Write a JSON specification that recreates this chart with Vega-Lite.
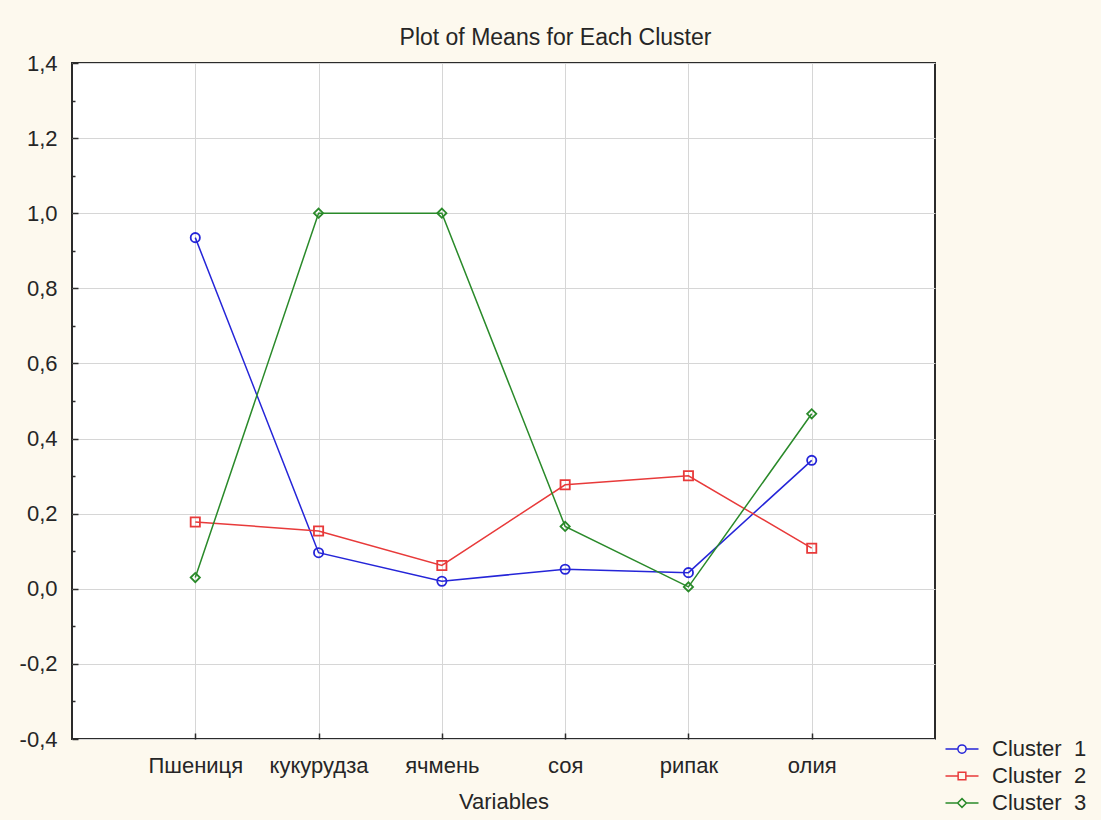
{
  "$schema": "https://vega.github.io/schema/vega-lite/v6.json",
  "width": 863,
  "height": 676,
  "autosize": "none",
  "padding": {"left": 72, "top": 63, "right": 166, "bottom": 81},
  "background": "#fdf9ee",
  "config": {
    "view": {"fill": "white", "stroke": "#2b2b2b", "strokeWidth": 2},
    "font": "Liberation Sans"
  },
  "title": {
    "text": "Plot of Means for Each Cluster",
    "fontSize": 23,
    "fontWeight": "normal",
    "color": "#262626",
    "font": "Liberation Sans",
    "anchor": "middle",
    "dx": 52,
    "offset": 2
  },
  "data": {
    "values": [
      {"variable": "Пшениця", "cluster": "Cluster 1", "mean": 0.935},
      {"variable": "кукурудза", "cluster": "Cluster 1", "mean": 0.096},
      {"variable": "ячмень", "cluster": "Cluster 1", "mean": 0.02},
      {"variable": "соя", "cluster": "Cluster 1", "mean": 0.052},
      {"variable": "рипак", "cluster": "Cluster 1", "mean": 0.043},
      {"variable": "олия", "cluster": "Cluster 1", "mean": 0.342},
      {"variable": "Пшениця", "cluster": "Cluster 2", "mean": 0.178},
      {"variable": "кукурудза", "cluster": "Cluster 2", "mean": 0.154},
      {"variable": "ячмень", "cluster": "Cluster 2", "mean": 0.062},
      {"variable": "соя", "cluster": "Cluster 2", "mean": 0.277},
      {"variable": "рипак", "cluster": "Cluster 2", "mean": 0.301},
      {"variable": "олия", "cluster": "Cluster 2", "mean": 0.108},
      {"variable": "Пшениця", "cluster": "Cluster 3", "mean": 0.03},
      {"variable": "кукурудза", "cluster": "Cluster 3", "mean": 1.0},
      {"variable": "ячмень", "cluster": "Cluster 3", "mean": 1.0},
      {"variable": "соя", "cluster": "Cluster 3", "mean": 0.166},
      {"variable": "рипак", "cluster": "Cluster 3", "mean": 0.005},
      {"variable": "олия", "cluster": "Cluster 3", "mean": 0.466}
    ]
  },
  "encoding": {
    "x": {
      "field": "variable",
      "type": "ordinal",
      "sort": ["Пшениця", "кукурудза", "ячмень", "соя", "рипак", "олия"],
      "scale": {"type": "point", "padding": 1},
      "axis": {
        "title": "Variables",
        "titleFontSize": 22,
        "titleFontWeight": "normal",
        "titleColor": "#262626",
        "titlePadding": 15,
        "labelFontSize": 22,
        "labelColor": "#262626",
        "labelAngle": 0,
        "labelPadding": 22,
        "tickSize": -6,
        "tickColor": "#2b2b2b",
        "tickWidth": 1.5,
        "domain": false,
        "grid": true,
        "gridColor": "#d6d6d6",
        "gridWidth": 1
      }
    },
    "y": {
      "field": "mean",
      "type": "quantitative",
      "scale": {"domain": [-0.4, 1.4], "nice": false, "zero": false},
      "axis": {
        "title": null,
        "values": [-0.4, -0.3, -0.2, -0.1, 0, 0.1, 0.2, 0.3, 0.4, 0.5, 0.6, 0.7, 0.8, 0.9, 1.0, 1.1, 1.2, 1.3, 1.4],
        "labelExpr": "abs(round(datum.value*10)) % 2 == 0 ? replace(replace(format(datum.value, '.1f'), '.', ','), '\u2212', '-') : ''",
        "labelFontSize": 22,
        "labelColor": "#262626",
        "labelPadding": 21,
        "tickSize": -6,
        "tickDash": {"condition": {"test": "abs(round(datum.value*10)) % 2 == 1", "value": [3, 30]}, "value": [6, 0]},
        "tickColor": "#2b2b2b",
        "tickWidth": 1.5,
        "domain": false,
        "grid": true,
        "gridColor": "#d6d6d6",
        "gridWidth": 1,
        "gridOpacity": {"condition": {"test": "abs(round(datum.value*10)) % 2 == 1", "value": 0}, "value": 1}
      }
    }
  },
  "layer": [
    {
      "mark": {"type": "line", "strokeWidth": 1.5},
      "encoding": {
        "color": {
          "field": "cluster",
          "type": "nominal",
          "scale": {"domain": ["Cluster 1", "Cluster 2", "Cluster 3"], "range": ["#2525d8", "#e83a3a", "#2a8a2a"]},
          "legend": null
        }
      }
    },
    {
      "mark": {"type": "point", "filled": false, "strokeWidth": 1.8, "size": 85, "opacity": 1},
      "encoding": {
        "color": {
          "field": "cluster",
          "type": "nominal",
          "scale": {"domain": ["Cluster 1", "Cluster 2", "Cluster 3"], "range": ["#2525d8", "#e83a3a", "#2a8a2a"]},
          "legend": null
        },
        "shape": {
          "field": "cluster",
          "type": "nominal",
          "scale": {"domain": ["Cluster 1", "Cluster 2", "Cluster 3"], "range": ["circle", "square", "diamond"]},
          "legend": null
        }
      }
    },
    {
      "transform": [{"filter": "datum.mean > 10"}],
      "mark": {"type": "point", "filled": false, "strokeWidth": 1.5, "size": 121, "opacity": 1},
      "encoding": {
        "color": {
          "field": "cluster",
          "type": "nominal",
          "scale": {"domain": ["Cluster 1", "Cluster 2", "Cluster 3"], "range": ["#2525d8", "#e83a3a", "#2a8a2a"]},
          "legend": {
            "title": null,
            "orient": "none",
            "legendX": 890,
            "legendY": 675,
            "padding": 0,
            "labelFontSize": 22,
            "labelColor": "#262626",
            "labelOffset": 8,
            "symbolSize": 121,
            "symbolStrokeWidth": 1.5,
            "rowPadding": 5,
            "labelExpr": "replace(datum.label, ' ', '\u00a0\u00a0')"
          }
        },
        "shape": {
          "field": "cluster",
          "type": "nominal",
          "scale": {
            "domain": ["Cluster 1", "Cluster 2", "Cluster 3"],
            "range": [
              "M-5,0H-2.75M-1.25,0H1M-2.75,0A0.75,0.75 0 1,0 -1.25,0A0.75,0.75 0 1,0 -2.75,0",
              "M-5,0H-2.7M-1.3,0H1M-2.7,-0.7H-1.3V0.7H-2.7Z",
              "M-5,0H-2.8M-1.2,0H1M-2,-0.8L-1.2,0L-2,0.8L-2.8,0Z"
            ]
          },
          "legend": {
            "title": null,
            "orient": "none",
            "legendX": 890,
            "legendY": 675,
            "padding": 0,
            "labelFontSize": 22,
            "labelColor": "#262626",
            "labelOffset": 8,
            "symbolSize": 121,
            "symbolStrokeWidth": 1.5,
            "rowPadding": 5,
            "labelExpr": "replace(datum.label, ' ', '\u00a0\u00a0')"
          }
        }
      }
    }
  ],
  "resolve": {"scale": {"color": "independent", "shape": "independent"}}
}
